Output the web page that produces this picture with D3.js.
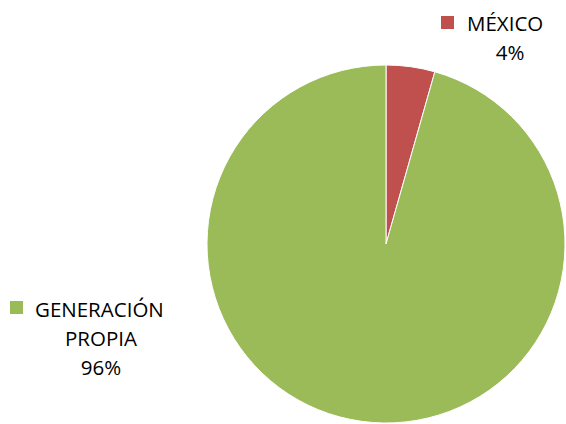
<!DOCTYPE html>
<html>
<head>
<meta charset="utf-8">
<script src="https://cdn.jsdelivr.net/npm/d3@7"></script>
<style>
  html, body { margin: 0; padding: 0; background: #fff; }
  svg { display: block; font-family: "Open Sans", sans-serif; }
</style>
</head>
<body>
<div id="chart"></div>
<script>
const categories = ["MÉXICO", "GENERACIÓN PROPIA"];
const shares = [0.044, 0.956];
const colors = ["#C0504D", "#9BBB59"];
const labelLines = [["MÉXICO"], ["GENERACIÓN", "PROPIA"]];

const width = 566;
const height = 424;
const cx = 386;
const cy = 244;
const radius = 179;

const data = categories.map((c, i) => ({
  name: c,
  value: shares[i],
  color: colors[i],
  lines: labelLines[i],
}));

const svg = d3
  .select("#chart")
  .append("svg")
  .attr("width", width)
  .attr("height", height)
  .attr("viewBox", [0, 0, width, height]);

const pie = d3.pie().sort(null).value((d) => d.value);
const arc = d3.arc().innerRadius(0).outerRadius(radius);

svg
  .append("g")
  .attr("transform", `translate(${cx},${cy})`)
  .selectAll("path")
  .data(pie(data))
  .join("path")
  .attr("d", arc)
  .attr("fill", (d) => d.data.color)
  .attr("stroke", "#fff")
  .attr("stroke-width", 1);

// data labels with legend key (position per slice)
const labelPos = [
  { key: [441, 16], textX: 467, centerX: 510, y: 31 },
  { key: [10, 301], textX: 35, centerX: 101, y: 317 },
];
const fmt = d3.format(".0%");
const lineH = 29;

const gLabels = svg.append("g").attr("fill", "#000").style("font-size", "20.5px");

data.forEach((d, i) => {
  const p = labelPos[i];
  gLabels
    .append("rect")
    .attr("x", p.key[0])
    .attr("y", p.key[1])
    .attr("width", 13)
    .attr("height", 13)
    .attr("fill", d.color);
  const lines = d.lines.concat([fmt(d.value)]);
  lines.forEach((t, j) => {
    gLabels
      .append("text")
      .attr("x", j === 0 ? p.textX : p.centerX)
      .attr("y", p.y + j * lineH)
      .attr("text-anchor", j === 0 ? "start" : "middle")
      .text(t);
  });
});
</script>
</body>
</html>
